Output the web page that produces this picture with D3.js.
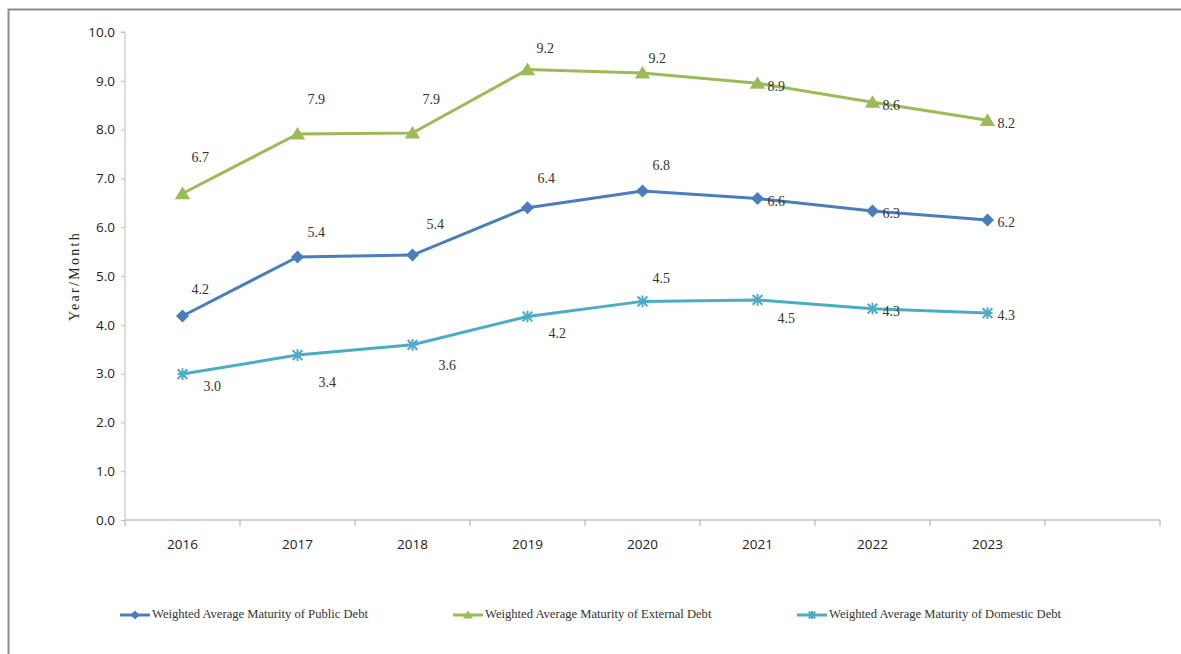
<!DOCTYPE html>
<html>
<head>
<meta charset="utf-8">
<script src="https://cdn.jsdelivr.net/npm/d3@7"></script>
<style>
  html, body { margin: 0; padding: 0; background: #fff; }
  svg { display: block; }
</style>
</head>
<body>
<svg id="chart" width="1181" height="654"></svg>
<script>
// ---- data ----
const categories = ["2016", "2017", "2018", "2019", "2020", "2021", "2022", "2023", ""];
const years = ["2016", "2017", "2018", "2019", "2020", "2021", "2022", "2023"];
const publicDebt   = [4.18, 5.39, 5.43, 6.40, 6.74, 6.59, 6.33, 6.15];
const externalDebt = [6.69, 7.91, 7.93, 9.23, 9.16, 8.95, 8.56, 8.19];
const domesticDebt = [2.99, 3.38, 3.59, 4.17, 4.48, 4.51, 4.33, 4.24];
const publicLabels   = ["4.2", "5.4", "5.4", "6.4", "6.8", "6.6", "6.3", "6.2"];
const externalLabels = ["6.7", "7.9", "7.9", "9.2", "9.2", "8.9", "8.6", "8.2"];
const domesticLabels = ["3.0", "3.4", "3.6", "4.2", "4.5", "4.5", "4.3", "4.3"];
const yTicks = [0, 1, 2, 3, 4, 5, 6, 7, 8, 9, 10];
const seriesNames = [
  "Weighted Average Maturity of Public Debt",
  "Weighted Average Maturity of External Debt",
  "Weighted Average Maturity of Domestic Debt"
];

// ---- label placement (style, offsets from point) ----
const publicOff   = [[9,-25],[10,-23],[14,-29],[10,-28],[10,-24],[10,4],[10,4],[10,4]];
const externalOff = [[9,-35],[10,-33],[10,-32],[9,-20],[6,-13],[10,5],[10,5],[10,4]];
const domesticOff = [[21,14],[21,29],[26,22],[21,18],[10,-22],[20,20],[10,4],[10,4]];

const svg = d3.select("#chart");
const colors = ["#4A7EBB", "#9BBB59", "#4BACC6"];

// outer frame
svg.append("rect").attr("x", 8.5).attr("y", 9.5).attr("width", 1200).attr("height", 700)
  .attr("fill", "none").attr("stroke", "#8c8c8c").attr("stroke-width", 2);

const x0 = 125, x1 = 1160, yTop = 32, yBot = 520;
const x = d3.scaleBand().domain(categories).range([x0, x1]).paddingInner(0).paddingOuter(0);
const y = d3.scaleLinear().domain([0, 10]).range([yBot, yTop]);
const cx = d => x(d) + x.bandwidth() / 2;

// y axis
const yAxis = d3.axisLeft(y).tickValues(yTicks).tickFormat(d3.format(".1f")).tickSize(4).tickPadding(6);
const gy = svg.append("g").attr("transform", `translate(${x0},0)`).call(yAxis);
gy.select(".domain").attr("stroke", "#bfbfbf").attr("d", `M-4,${yTop}H0V${yBot}`);
gy.selectAll(".tick line").attr("stroke", "#bfbfbf");
gy.selectAll(".tick text").attr("fill", "#222").style("font-family", "'Open Sans', sans-serif").style("font-size", "13.5px");

// x axis
const xAxis = d3.axisBottom(x).tickSize(0).tickPadding(19);
const gx = svg.append("g").attr("transform", `translate(0,${yBot})`).call(xAxis);
gx.select(".domain").attr("stroke", "#a6a6a6").attr("d", `M${x0},0H${x1}`);
gx.selectAll(".tick text").attr("fill", "#222").style("font-family", "'Open Sans', sans-serif").style("font-size", "13.5px");
// boundary ticks
const bounds = categories.map(c => x(c)).concat([x1]);
gx.selectAll("line.bt").data(bounds).enter().append("line").attr("class", "bt")
  .attr("x1", d => d).attr("x2", d => d).attr("y1", 0).attr("y2", 6)
  .attr("stroke", "#a6a6a6");

// y title
svg.append("text").attr("transform", "translate(79,276) rotate(-90)")
  .attr("text-anchor", "middle")
  .style("font-family", "'Liberation Serif', serif").style("font-size", "14px")
  .style("letter-spacing", "2.3px")
  .attr("fill", "#222").text("Year/Month");

// marker paths
function diamond(s) { return `M0,${-s}L${s},0L0,${s}L${-s},0Z`; }
function triangle(s) { return `M0,${-s}L${s*1.1},${s*0.8}L${-s*1.1},${s*0.8}Z`; }
function asterisk(s) { return `M${-s},${-s}L${s},${s}M${-s},${s}L${s},${-s}M0,${-s*1.2}V${s*1.2}M${-s},0H${s}`; }

const series = [
  { vals: publicDebt, labels: publicLabels, off: publicOff, color: colors[0], marker: "diamond" },
  { vals: externalDebt, labels: externalLabels, off: externalOff, color: colors[1], marker: "triangle" },
  { vals: domesticDebt, labels: domesticLabels, off: domesticOff, color: colors[2], marker: "asterisk" }
];

const line = d3.line().x((d, i) => cx(years[i])).y(d => y(d));

function drawMarker(g, type, color, size) {
  if (type === "diamond") g.append("path").attr("d", diamond(size)).attr("fill", color);
  else if (type === "triangle") g.append("path").attr("d", triangle(size)).attr("fill", color);
  else g.append("path").attr("d", asterisk(size * 0.75)).attr("fill", "none").attr("stroke", color).attr("stroke-width", 2);
}

series.forEach(s => {
  svg.append("path").datum(s.vals).attr("d", line).attr("fill", "none")
    .attr("stroke", s.color).attr("stroke-width", 3).attr("stroke-linejoin", "round");
  s.vals.forEach((v, i) => {
    const g = svg.append("g").attr("transform", `translate(${cx(years[i])},${y(v)})`);
    drawMarker(g, s.marker, s.color, s.marker === "triangle" ? 7 : 6.5);
  });
  s.vals.forEach((v, i) => {
    svg.append("text")
      .attr("x", cx(years[i]) + s.off[i][0])
      .attr("y", y(v) + s.off[i][1])
      .attr("text-anchor", "start")
      .attr("dominant-baseline", "middle")
      .style("font-family", "'Liberation Serif', serif").style("font-size", "14px")
      .attr("fill", "#333").text(s.labels[i]);
  });
});

// legend
const legendX = [120, 453, 797];
const ly = 615;
seriesNames.forEach((name, i) => {
  const g = svg.append("g").attr("transform", `translate(${legendX[i]},${ly})`);
  g.append("line").attr("x1", 0).attr("x2", 30).attr("y1", 0).attr("y2", 0)
    .attr("stroke", series[i].color).attr("stroke-width", 3);
  const m = g.append("g").attr("transform", "translate(15,0)");
  drawMarker(m, series[i].marker, series[i].color, 4.5);
  g.append("text").attr("x", 32).attr("y", 0).attr("dominant-baseline", "middle")
    .style("font-family", "'Liberation Serif', serif").style("font-size", "12.6px")
    .attr("fill", "#333").text(name);
});
</script>
</body>
</html>
